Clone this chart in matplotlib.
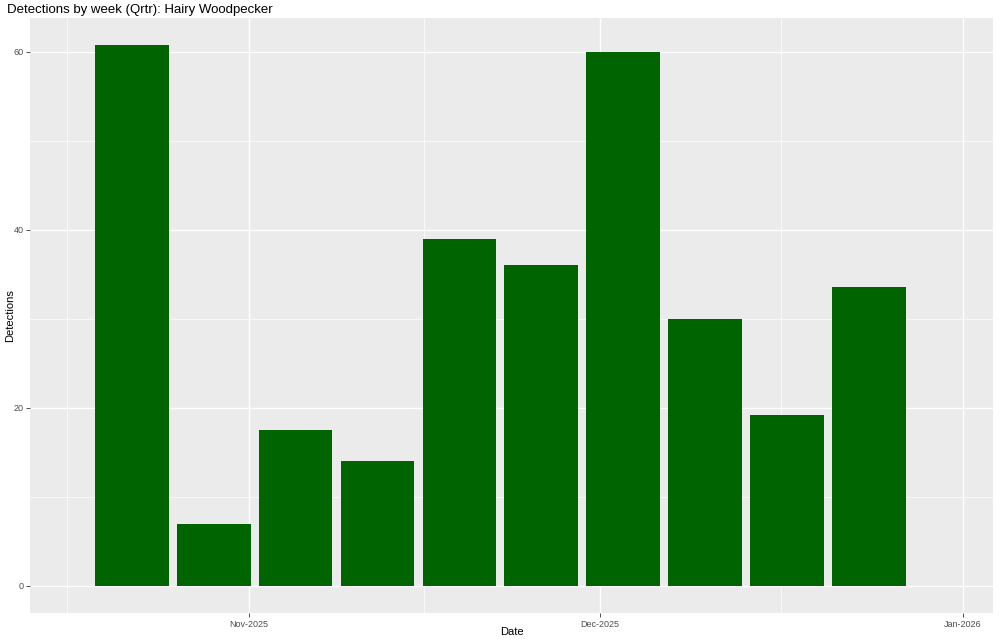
import matplotlib
matplotlib.use("Agg")
import matplotlib.pyplot as plt
import matplotlib.dates as mdates
import numpy as np
import datetime as dt

weeks = ["2025-10-22", "2025-10-29", "2025-11-05", "2025-11-12", "2025-11-19",
         "2025-11-26", "2025-12-03", "2025-12-10", "2025-12-17", "2025-12-24"]
detections = [60.75, 7, 17.5, 14, 39, 36, 60, 30, 19.2, 33.6]
major_breaks = ["2025-11-01", "2025-12-01", "2026-01-01"]
major_labels = ["Nov-2025", "Dec-2025", "Jan-2026"]
minor_breaks = ["2025-10-16 12:00", "2025-11-16", "2025-12-16 12:00"]

plt.rcParams['font.family'] = ['Liberation Sans', 'DejaVu Sans']

def to_num(s):
    fmt = "%Y-%m-%d %H:%M" if " " in s else "%Y-%m-%d"
    return mdates.date2num(dt.datetime.strptime(s, fmt))

x = np.array([to_num(s) for s in weeks])
fig = plt.figure(figsize=(10, 6.42), dpi=100)
ax = fig.add_axes([0.030, 0.0452, 0.963, 0.9268])
ax.set_facecolor("#EBEBEB")
ax.bar(x, detections, width=6.3, color="#006400", zorder=3)

ax.set_xlim(to_num("2025-10-13") + 0.3, to_num("2026-01-03") + 0.6)
ymax = max(detections)
ax.set_ylim(-0.05 * ymax, ymax * 1.05)

ax.set_xticks([to_num(s) for s in major_breaks])
ax.set_xticklabels(major_labels)
ax.set_xticks([to_num(s) for s in minor_breaks], minor=True)
ax.set_yticks([0, 20, 40, 60])
ax.set_yticks([10, 30, 50], minor=True)

ax.grid(which="major", color="white", linewidth=1.0, zorder=1)
ax.grid(which="minor", color="white", linewidth=0.5, zorder=1)
ax.set_axisbelow(True)
for sp in ax.spines.values():
    sp.set_visible(False)
ax.tick_params(which="major", length=2.75, width=0.6, color="#333333",
               labelsize=6.5, labelcolor="#4D4D4D", pad=2)
ax.tick_params(which="minor", length=0)

ax.set_xlabel("Date", fontsize=8)
ax.xaxis.set_label_coords(0.5, -0.032)
ax.xaxis.label.set_va("center")
ax.set_ylabel("Detections", fontsize=8)
ax.yaxis.set_label_coords(-0.0208, 0.5)
ax.yaxis.label.set_va("center")
fig.text(0.007, 1 - 9.5 / 642, "Detections by week (Qrtr): Hairy Woodpecker",
         fontsize=9.5, ha="left", va="center")

fig.savefig("out.png", dpi=100)
